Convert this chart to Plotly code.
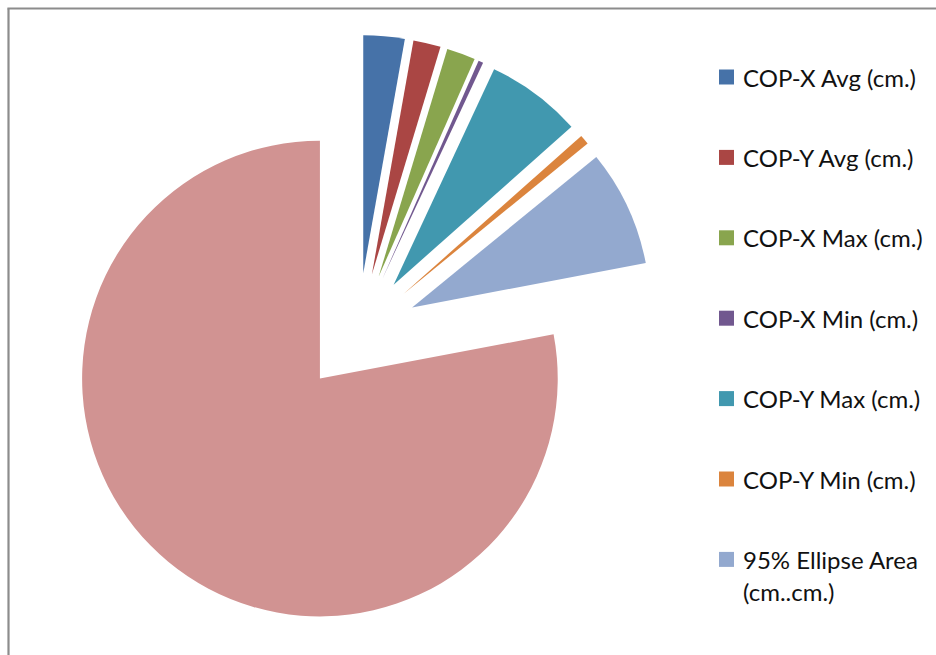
import plotly.graph_objects as go

# Stabilometry summary, shown as an exploded pie
labels = [
    "COP-X Avg (cm.)",
    "COP-Y Avg (cm.)",
    "COP-X Max (cm.)",
    "COP-X Min (cm.)",
    "COP-Y Max (cm.)",
    "COP-Y Min (cm.)",
    "95% Ellipse Area<br>(cm..cm.)",
    "Sway Path Length (cm.)",
]
values = [2.80, 1.86, 1.95, 0.33, 6.50, 0.66, 7.92, 77.98]
colors = ["#4672A8", "#AA4644", "#89A54E", "#71588F",
          "#4198AF", "#DB843D", "#93A9CF", "#D19392"]
legend_count = 7          # entries that fit in the legend column

W, H = 936, 655
pull = 0.251
cx, cy, box = 358.0, 332.6, 595.0   # pie box centre and size, px


def px(x):
    return x / W


def py(y):
    return 1 - y / H


fig = go.Figure(
    go.Pie(
        labels=[l.replace("<br>", " ") for l in labels],
        values=values,
        sort=False,
        direction="clockwise",
        rotation=0,
        pull=[pull] * len(values),
        marker=dict(colors=colors, line=dict(width=0)),
        textinfo="none",
        hoverinfo="label+value+percent",
        showlegend=False,
        domain=dict(x=[px(cx - box / 2), px(cx + box / 2)],
                    y=[py(cy + box / 2), py(cy - box / 2)]),
    )
)

shapes = [
    # chart-area frame (left and top edges)
    dict(type="line", xref="paper", yref="paper",
         x0=px(8.5), y0=py(H + 2), x1=px(8.5), y1=py(8.5),
         line=dict(color="#8C8C8C", width=2.2)),
    dict(type="line", xref="paper", yref="paper",
         x0=px(7.4), y0=py(8.5), x1=px(W + 2), y1=py(8.5),
         line=dict(color="#8C8C8C", width=2.2)),
]
annotations = []

# legend column
leg_x, leg_y0, leg_step, sq = 719.0, 77.0, 80.4, 15.0
text_x, line_h = 741.0, 32.5
for i in range(legend_count):
    yc = leg_y0 + i * leg_step
    shapes.append(dict(type="rect", xref="paper", yref="paper",
                       x0=px(leg_x), x1=px(leg_x + sq),
                       y0=py(yc + sq / 2), y1=py(yc - sq / 2),
                       fillcolor=colors[i], line=dict(width=0)))
    for k, part in enumerate(labels[i].split("<br>")):
        annotations.append(dict(
            xref="paper", yref="paper", x=px(text_x), y=py(yc + k * line_h),
            xanchor="left", yanchor="middle", showarrow=False, text=part,
            font=dict(family="Lato", size=24, color="#111111")))

fig.update_layout(
    width=W, height=H,
    margin=dict(l=0, r=0, t=0, b=0),
    paper_bgcolor="white",
    plot_bgcolor="white",
    shapes=shapes,
    annotations=annotations,
)

fig.write_html("out.html")
